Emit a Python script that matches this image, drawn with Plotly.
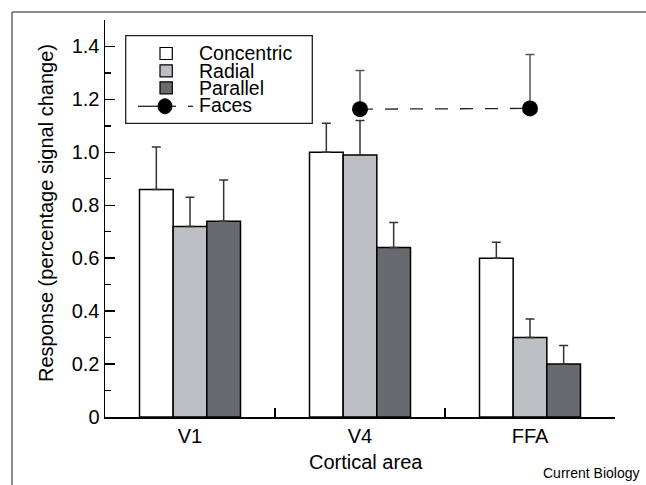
import plotly.graph_objects as go

# ---- data ----
areas = ["V1", "V4", "FFA"]
series_names = ["Concentric", "Radial", "Parallel", "Faces"]
concentric = [0.86, 1.00, 0.60]
concentric_err = [0.16, 0.11, 0.06]
radial = [0.72, 0.99, 0.30]
radial_err = [0.11, 0.13, 0.07]
parallel = [0.74, 0.64, 0.20]
parallel_err = [0.155, 0.095, 0.07]
faces_areas = ["V4", "FFA"]
faces = [1.163, 1.166]
faces_err = [0.146, 0.204]
ytick_vals = [0, 0.2, 0.4, 0.6, 0.8, 1.0, 1.2, 1.4]
ytick_text = ["0", "0.2", "0.4", "0.6", "0.8", "1.0", "1.2", "1.4"]

# ---- style ----
W, H = 646, 485
ML, MR, MT, MB = 105, 31, 20, 68
PW, PH = W - ML - MR, H - MT - MB
FONT = "Liberation Sans, Arial, Helvetica, sans-serif"
colors = ["#ffffff", "#bebfc3", "#696a6e"]


def px(x):
    return (x - ML) / PW


def py(y):
    return (H - MB - y) / PH


fig = go.Figure()
for name, vals, errs, col in zip(series_names[:3], [concentric, radial, parallel],
                                 [concentric_err, radial_err, parallel_err], colors):
    fig.add_trace(go.Bar(
        x=areas, y=vals, name=name,
        marker=dict(color=col, line=dict(color="black", width=1.5)),
        error_y=dict(type="data", symmetric=False, array=errs,
                     arrayminus=[0] * len(errs), color="#333333",
                     thickness=1.5, width=4.5),
        showlegend=False, hoverinfo="skip",
    ))

fig.add_trace(go.Scatter(
    x=faces_areas, y=faces, name=series_names[3], mode="lines+markers",
    line=dict(color="#222222", width=1.3, dash="13px,12px"),
    marker=dict(color="black", size=16, symbol="circle"),
    error_y=dict(type="data", symmetric=False, array=faces_err,
                 arrayminus=[0] * len(faces_err), color="#555555",
                 thickness=1.5, width=4.5),
    showlegend=False, hoverinfo="skip",
))

shapes = []
annotations = []

# outer frame (top and left edges)
shapes.append(dict(type="line", xref="paper", yref="paper",
                   x0=px(12), x1=px(W + 5), y0=py(12), y1=py(12),
                   line=dict(color="#666666", width=1.5)))
shapes.append(dict(type="line", xref="paper", yref="paper",
                   x0=px(12), x1=px(12), y0=py(12), y1=py(H + 5),
                   line=dict(color="#666666", width=1.5)))

# legend box
shapes.append(dict(type="rect", xref="paper", yref="paper",
                   x0=px(125.7), x1=px(312.3), y0=py(35.7), y1=py(123.3),
                   line=dict(color="#222222", width=1.3), fillcolor="white"))
row_y = [53.5, 70.8, 87.8, 106.3]
text_y = [53.5, 70.5, 87.5, 104.8]
for i in range(3):
    shapes.append(dict(type="rect", xref="paper", yref="paper",
                       x0=px(160), x1=px(172.3), y0=py(row_y[i] - 6), y1=py(row_y[i] + 6),
                       line=dict(color="black", width=1.2), fillcolor=colors[i]))
# faces legend symbol
shapes.append(dict(type="line", xref="paper", yref="paper",
                   x0=px(138), x1=px(158), y0=py(row_y[3]), y1=py(row_y[3]),
                   line=dict(color="#222222", width=1.3)))
shapes.append(dict(type="line", xref="paper", yref="paper",
                   x0=px(172), x1=px(176), y0=py(row_y[3]), y1=py(row_y[3]),
                   line=dict(color="#222222", width=1.3)))
shapes.append(dict(type="line", xref="paper", yref="paper",
                   x0=px(188), x1=px(193), y0=py(row_y[3]), y1=py(row_y[3]),
                   line=dict(color="#222222", width=1.3)))
shapes.append(dict(type="circle", xref="paper", yref="paper",
                   x0=px(158), x1=px(172), y0=py(row_y[3] - 7.5), y1=py(row_y[3] + 7.5),
                   line=dict(color="black", width=1), fillcolor="black"))
for i, name in enumerate(series_names):
    annotations.append(dict(xref="paper", yref="paper", x=px(197), y=py(text_y[i]),
                            text=name, showarrow=False, xanchor="left", yanchor="middle",
                            font=dict(family=FONT, size=19.5, color="black")))

# axis titles
annotations.append(dict(xref="paper", yref="paper", x=px(366), y=py(461.7),
                        text="Cortical area", showarrow=False,
                        xanchor="center", yanchor="middle",
                        font=dict(family=FONT, size=20, color="black")))
annotations.append(dict(xref="paper", yref="paper", x=px(46), y=py(213),
                        text="Response (percentage signal change)", showarrow=False,
                        textangle=-90, xanchor="center", yanchor="middle",
                        font=dict(family=FONT, size=20, color="black")))
annotations.append(dict(xref="paper", yref="paper", x=px(541), y=py(473),
                        text="Current Biology", showarrow=False,
                        xanchor="left", yanchor="middle",
                        font=dict(family=FONT, size=14, color="black")))

fig.update_layout(
    width=W, height=H,
    margin=dict(l=ML, r=MR, t=MT, b=MB, pad=0),
    paper_bgcolor="white", plot_bgcolor="white",
    barmode="group", bargap=0.406, bargroupgap=0,
    shapes=shapes, annotations=annotations,
    font=dict(family=FONT, size=20, color="black"),
    hovermode=False,
)
fig.update_xaxes(
    type="category", range=[-0.5, 2.5], tickson="boundaries",
    ticks="inside", ticklen=9, tickwidth=1.5, tickcolor="black",
    showline=True, linecolor="black", linewidth=1.5,
    showgrid=False, zeroline=False,
    tickfont=dict(family=FONT, size=20, color="black"),
)
fig.update_yaxes(
    range=[0, 1.5], tickvals=ytick_vals, ticktext=ytick_text,
    ticks="inside", ticklen=10, tickwidth=1.5, tickcolor="black",
    minor=dict(ticks="inside", ticklen=6, dtick=0.1, tick0=0,
               tickcolor="black", tickwidth=1.3, showgrid=False),
    showline=True, linecolor="black", linewidth=1.5,
    showgrid=False, zeroline=False,
    tickfont=dict(family=FONT, size=20, color="black"),
)

fig.write_html(
    "out.html",
    config={"displayModeBar": False, "staticPlot": True},
    post_script="document.body.style.margin='0';document.body.style.overflow='hidden';",
)
